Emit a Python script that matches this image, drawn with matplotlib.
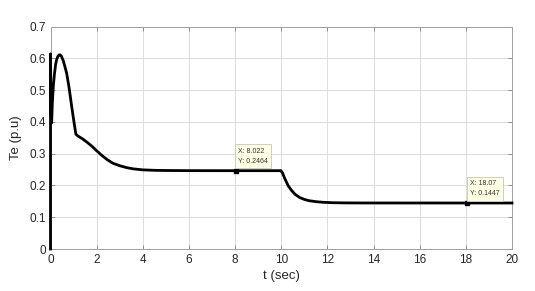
import matplotlib.pyplot as plt

# Electromagnetic torque response
t_sec = [0, 0, 0.02, 0.05, 0.08, 0.12, 0.17, 0.22, 0.27, 0.32, 0.36, 0.41,
         0.47, 0.55, 0.62, 0.7, 0.8, 0.9, 1.0, 1.1, 1.2, 1.4, 1.6, 1.8, 2.0,
         2.2, 2.44, 2.7, 3.0, 3.3, 3.6, 4.0, 4.5, 5.0, 6.0, 8.022, 9.98,
         10.05, 10.15, 10.3, 10.45, 10.6, 10.8, 11.0, 11.2, 11.5, 11.8, 12.2,
         12.7, 13.5, 18.07, 20.0]
te_pu = [0, 0.614, 0.45, 0.397, 0.46, 0.511, 0.55, 0.58, 0.597, 0.606, 0.61,
         0.611, 0.607, 0.593, 0.575, 0.553, 0.51, 0.458, 0.408, 0.361, 0.355,
         0.346, 0.335, 0.323, 0.309, 0.296, 0.282, 0.27, 0.262, 0.256, 0.252,
         0.249, 0.2475, 0.247, 0.2465, 0.2464, 0.2464, 0.24, 0.222, 0.199,
         0.184, 0.172, 0.162, 0.156, 0.152, 0.149, 0.147, 0.1457, 0.1451,
         0.1448, 0.1447, 0.1447]

# data tips
tips_x = [8.022, 18.07]
tips_y = [0.2464, 0.1447]
tips_text = ["X: 8.022\nY: 0.2464", "X: 18.07\nY: 0.1447"]

plt.rcParams['font.family'] = ['Liberation Sans', 'DejaVu Sans']
txt_color = '#262626'

fig = plt.figure(figsize=(5.35, 2.91), dpi=100)
ax = fig.add_axes([50.5 / 535, 1 - 249 / 291, (512 - 50.5) / 535, (249 - 26.5) / 291])

ax.plot(t_sec, te_pu, color='black', linewidth=2.0, solid_joinstyle='round',
        clip_on=False, zorder=5)

for x, y, s in zip(tips_x, tips_y, tips_text):
    ax.plot([x], [y], marker='s', markersize=3.5, color='black', linestyle='none', zorder=6)
    ax.annotate(s, xy=(x, y), xytext=(2, 4), textcoords='offset points',
                fontsize=5, color='#333333', va='bottom', ha='left', linespacing=1.7,
                bbox=dict(boxstyle='square,pad=0.45', facecolor='#ffffe5',
                          edgecolor='#c8c8b4', linewidth=0.6), zorder=7)

ax.set_xlim(0, 20)
ax.set_ylim(0, 0.7)
ax.set_xticks(range(0, 21, 2))
ax.set_yticks([0, 0.1, 0.2, 0.3, 0.4, 0.5, 0.6, 0.7])
ax.set_yticklabels(['0', '0.1', '0.2', '0.3', '0.4', '0.5', '0.6', '0.7'])
ax.grid(True, color='#dcdcdc', linewidth=0.7)
ax.set_axisbelow(True)
ax.tick_params(direction='in', top=True, right=True, length=3, width=0.6,
               colors='#808080', labelcolor=txt_color, labelsize=8.5)
for sp in ax.spines.values():
    sp.set_color('#a0a0a0')
    sp.set_linewidth(0.7)

ax.set_xlabel('t (sec)', fontsize=9.5, color=txt_color, labelpad=3)
ax.set_ylabel('Te (p.u)', fontsize=9.5, color=txt_color, labelpad=5)

fig.savefig('out.png', dpi=100)
